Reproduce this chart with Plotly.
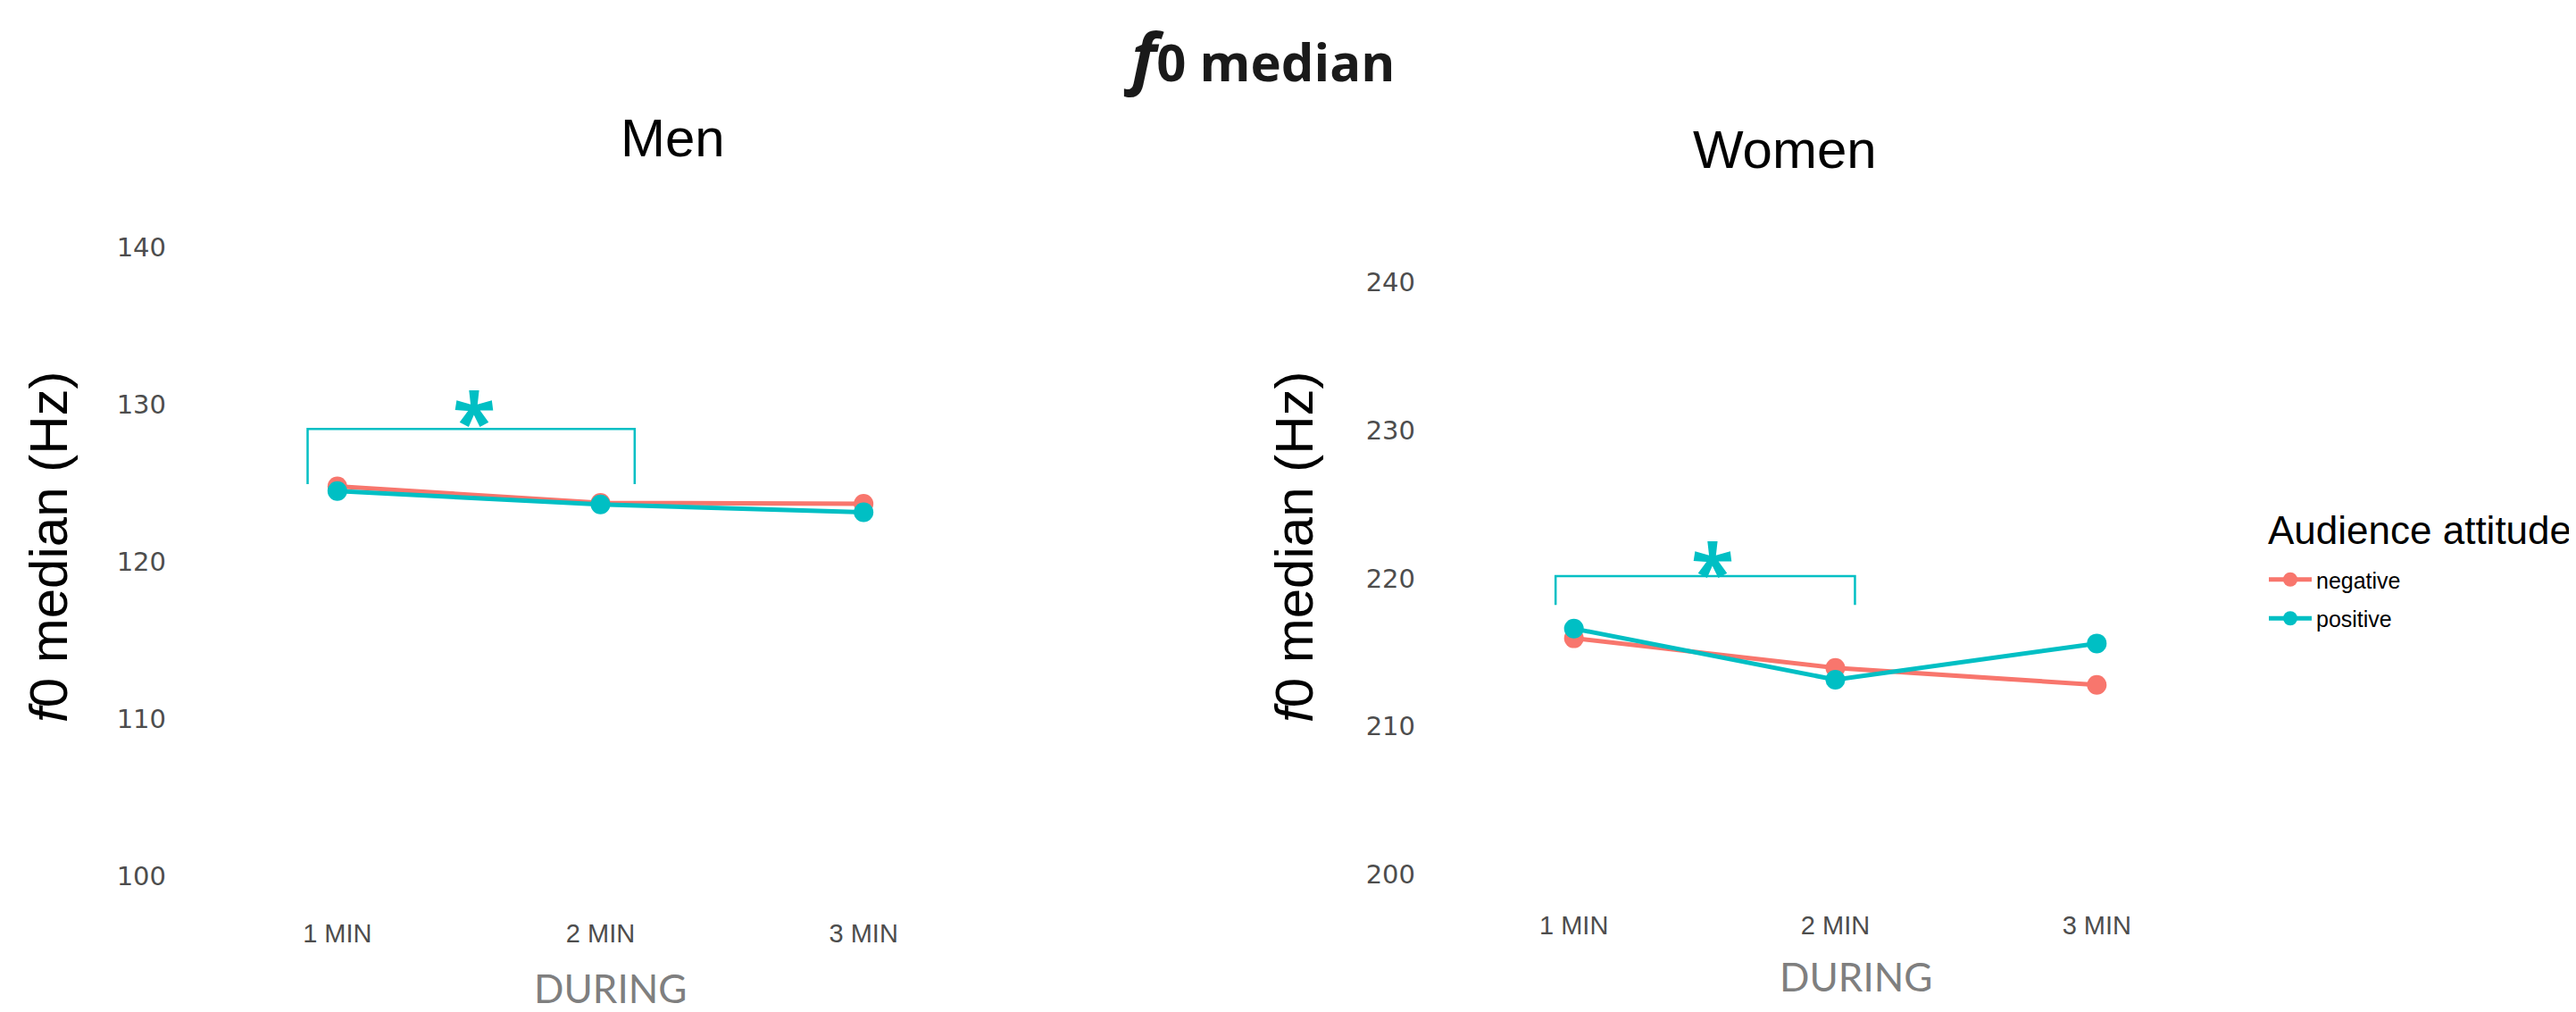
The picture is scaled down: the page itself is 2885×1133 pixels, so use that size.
import plotly.graph_objects as go

# ---------------- data ----------------
categories = ["1 MIN", "2 MIN", "3 MIN"]
series_names = ["negative", "positive"]
colors = {"negative": "#F8766D", "positive": "#00BFC4"}

men_negative = [124.8, 123.75, 123.7]
men_positive = [124.5, 123.65, 123.15]
women_negative = [215.95, 213.95, 212.8]
women_positive = [216.6, 213.15, 215.6]

men_yticks = [100, 110, 120, 130, 140]
women_yticks = [200, 210, 220, 230, 240]

# significance brackets: [left x, right x] (1-based category position), [end y, top y], star position
men_bracket_x = [0.887, 2.13]
men_bracket_y = [124.95, 128.45]
men_star = [1.52, 129.6]
women_bracket_x = [0.93, 2.075]
women_bracket_y = [218.2, 220.15]
women_star = [1.53, 221.1]

W, H = 2885, 1133
xpos = [i + 1 for i in range(len(categories))]

fig = go.Figure()

def add_panel(xa, ya, neg, pos, show_legend):
    for name, vals in (("negative", neg), ("positive", pos)):
        fig.add_trace(go.Scatter(
            x=xpos, y=vals, mode="lines+markers", name=name,
            line=dict(color=colors[name], width=5),
            marker=dict(color=colors[name], size=22),
            xaxis=xa, yaxis=ya, showlegend=show_legend, legendgroup=name))

def add_bracket(xa, ya, bx, by, star):
    fig.add_trace(go.Scatter(
        x=[bx[0], bx[0], bx[1], bx[1]], y=[by[0], by[1], by[1], by[0]],
        mode="lines", line=dict(color="#00BFC4", width=2.5),
        xaxis=xa, yaxis=ya, showlegend=False, hoverinfo="skip"))
    fig.add_annotation(x=star[0], y=star[1], xref=xa, yref=ya, text="<b>*</b>",
                       showarrow=False, xanchor="center", yanchor="middle", yshift=-10,
                       font=dict(family="Open Sans", size=88, color="#00BFC4"))

add_panel("x", "y", men_negative, men_positive, True)
add_panel("x2", "y2", women_negative, women_positive, False)
add_bracket("x", "y", men_bracket_x, men_bracket_y, men_star)
add_bracket("x2", "y2", women_bracket_x, women_bracket_y, women_star)

xcommon = dict(range=[0.4, 3.6], tickvals=xpos, ticktext=categories,
               showgrid=False, zeroline=False, showline=False, ticks="",
               tickfont=dict(family="Liberation Sans Narrow, Arial Narrow, sans-serif",
                             size=29, color="#4D4D4D"))
ycommon = dict(showgrid=False, zeroline=False, showline=False, ticks="",
               tickfont=dict(family="DejaVu Sans", size=29, color="#4D4D4D"))

fig.update_layout(
    width=W, height=H, margin=dict(l=0, r=0, t=0, b=0),
    paper_bgcolor="white", plot_bgcolor="white",
    xaxis=dict(domain=[193 / W, 1136 / W], anchor="y", ticklabelstandoff=9, **xcommon),
    yaxis=dict(domain=[1 - 1008 / H, 1 - 234 / H], anchor="x", range=[98, 142],
               tickvals=men_yticks, ticklabelstandoff=14, **ycommon),
    xaxis2=dict(domain=[1579 / W, 2516 / W], anchor="y2", ticklabelstandoff=4, **xcommon),
    yaxis2=dict(domain=[1 - 1004 / H, 1 - 275 / H], anchor="x2", range=[198, 242],
                tickvals=women_yticks, ticklabelstandoff=1, **ycommon),
    legend=dict(x=2528 / W, y=1 - 618 / H, xanchor="left", yanchor="top",
                font=dict(family="Liberation Sans, Arial", size=25, color="black"),
                itemwidth=48, tracegroupgap=8),
    showlegend=True,
)

# legend title
fig.add_annotation(x=2530 / W, y=1 - 585 / H, xref="paper", yref="paper",
                   text="Audience attitude", showarrow=False,
                   xanchor="left", yanchor="middle",
                   font=dict(family="Liberation Sans, Arial", size=44, color="black"))

# titles
fig.add_annotation(x=1402 / W, y=1 - 53 / H, xref="paper", yref="paper",
                   text="<b><i><span style='font-size:76px'>f</span></i>0 median</b>",
                   showarrow=False, xanchor="center", yanchor="middle",
                   font=dict(family="Open Sans", size=58, color="#1a1a1a"))
for tx, ty, txt in ((745, 146, "Men"), (1991, 159, "Women")):
    fig.add_annotation(x=tx / W, y=1 - ty / H, xref="paper", yref="paper", text=txt,
                       showarrow=False, xanchor="center", yanchor="middle",
                       font=dict(family="Liberation Sans, Arial", size=60, color="black"))
for tx, ty in ((46, 605), (1441, 605)):
    fig.add_annotation(x=tx / W, y=1 - ty / H, xref="paper", yref="paper",
                       text="<i>f</i>0 median (Hz)", textangle=-90, showarrow=False,
                       xanchor="center", yanchor="middle",
                       font=dict(family="Liberation Sans Narrow, Arial Narrow, sans-serif",
                                 size=60, color="black"))
for tx, ty in ((675, 1098), (2070, 1085)):
    fig.add_annotation(x=tx / W, y=1 - ty / H, xref="paper", yref="paper", text="DURING",
                       showarrow=False, xanchor="center", yanchor="middle",
                       font=dict(family="Lato", size=44, color="#7F7F7F"))

fig.write_html("out.html")
